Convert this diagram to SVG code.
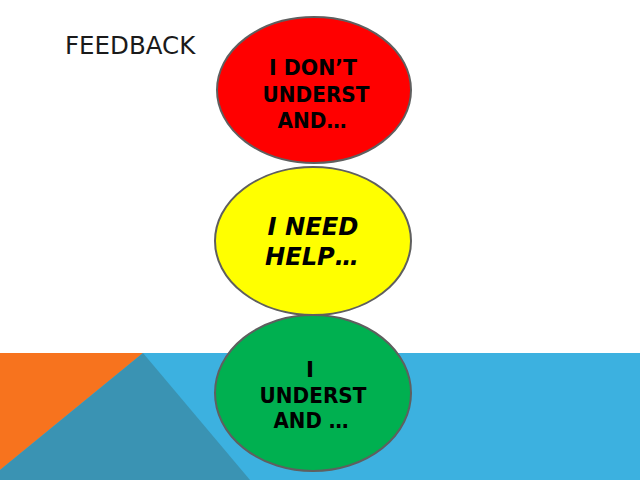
<svg xmlns="http://www.w3.org/2000/svg" width="640" height="480" viewBox="0 0 640 480">
<style>
.node ellipse{stroke:#5f5f5f;stroke-width:2}
.lbl{font-family:"DejaVu Sans",sans-serif;font-weight:bold;font-size:21.5px;fill:#000;text-anchor:middle}
.it{font-style:italic;font-size:24px}
.title{font-family:"DejaVu Sans",sans-serif;font-size:24.5px;fill:#1a1a1a}
</style>
<rect width="640" height="480" fill="#fff"/>
<g id="background">
<rect x="0" y="353" width="640" height="127" fill="#3cb1e0"/>
<polygon points="0,353 143,353 0,470" fill="#f7731e"/>
<polygon points="143,353 250,480 0,480 0,470" fill="#3a93b3"/>
</g>
<text class="title" x="65" y="54">FEEDBACK</text>
<g id="connectors"></g>
<g id="node-red" class="node">
<ellipse cx="314" cy="90" rx="97" ry="73" fill="#ff0000"/>
<text class="lbl" x="313" y="75" textLength="88" lengthAdjust="spacingAndGlyphs">I DON’T</text>
<text class="lbl" x="316" y="102" textLength="107" lengthAdjust="spacingAndGlyphs">UNDERST</text>
<text class="lbl" x="312" y="128" textLength="69" lengthAdjust="spacingAndGlyphs">AND…</text>
</g>
<g id="node-yellow" class="node">
<ellipse cx="313" cy="241" rx="98" ry="74" fill="#ffff00"/>
<text class="lbl it" x="313" y="235" textLength="91" lengthAdjust="spacingAndGlyphs">I NEED</text>
<text class="lbl it" x="312" y="265" textLength="94" lengthAdjust="spacingAndGlyphs">HELP…</text>
</g>
<g id="node-green" class="node">
<ellipse cx="313" cy="393" rx="98" ry="78" fill="#00b050"/>
<text class="lbl" x="310" y="377">I</text>
<text class="lbl" x="313" y="403" textLength="107" lengthAdjust="spacingAndGlyphs">UNDERST</text>
<text class="lbl" x="311" y="428" textLength="75" lengthAdjust="spacingAndGlyphs">AND …</text>
</g>
</svg>
